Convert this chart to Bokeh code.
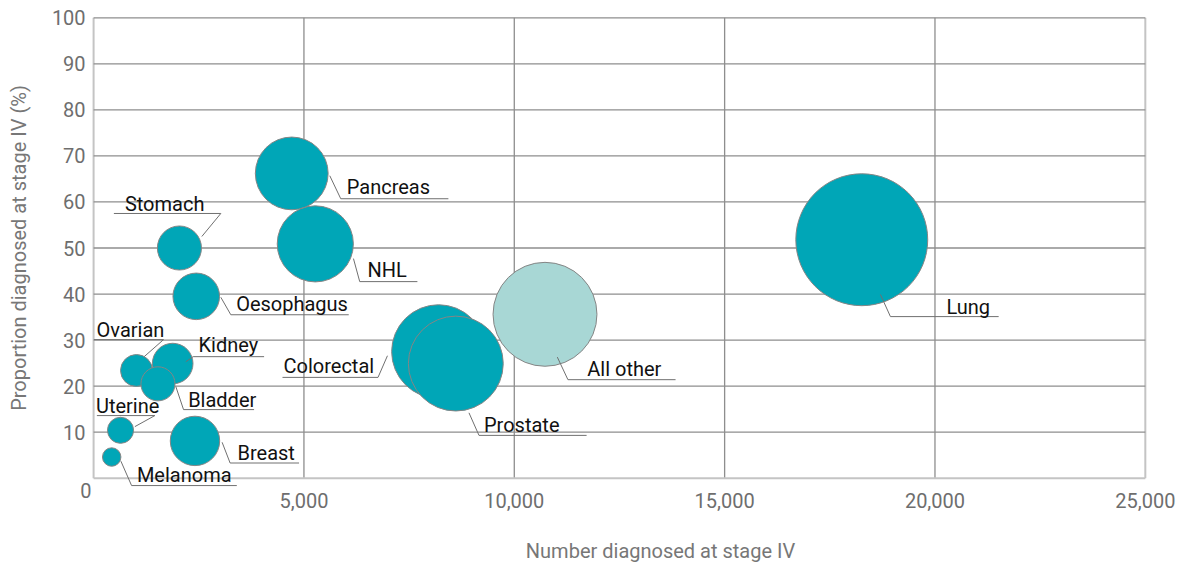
import math
from bokeh.plotting import figure
from bokeh.models import Range1d, ColumnDataSource, FixedTicker, NumeralTickFormatter
from bokeh.core.properties import value
from bokeh.embed import file_html
from bokeh.resources import INLINE

# ---------------- data ----------------
cancer = ["Lung", "All other", "Colorectal", "Prostate", "Pancreas", "NHL", "Stomach",
          "Oesophagus", "Ovarian", "Kidney", "Bladder", "Uterine", "Breast", "Melanoma"]
stage4_number = [18260, 10730, 8200, 8610, 4710, 5270, 2040, 2440, 1020, 1880, 1530, 640, 2410, 430]
stage4_pct = [51.8, 35.6, 27.5, 24.9, 66.2, 50.9, 50.0, 39.5, 23.4, 24.9, 20.5, 10.4, 8.1, 4.6]
bubble_value = [17400, 10800, 8800, 9000, 5300, 5800, 1940, 2170, 1020, 1650, 1160, 680, 2440, 340]

x_ticks = [0, 5000, 10000, 15000, 20000, 25000]
y_ticks = [0, 10, 20, 30, 40, 50, 60, 70, 80, 90, 100]
x_title = "Number diagnosed at stage IV"
y_title = "Proportion diagnosed at stage IV (%)"

# label layout (data coordinates): leader polyline and text baseline anchor
label_layout = {
    "Stomach":    ([(2573, 52.5), (3024, 57.5), (482, 57.5)], (744, 58.1)),
    "Pancreas":   ([(5614, 65.7), (5875, 60.7), (8434, 60.7)], (6018, 61.7)),
    "NHL":        ([(6177, 47.7), (6326, 42.7), (7697, 42.7)], (6509, 43.7)),
    "Oesophagus": ([(3024, 39.3), (3262, 35.5), (6065, 35.5)], (3388, 36.4)),
    "Ovarian":    ([(1202, 26.4), (1663, 30.1), (7, 30.1)], (71, 30.8)),
    "Kidney":     ([(2193, 25.3), (2366, 26.4), (4053, 26.4)], (2494, 27.4)),
    "Bladder":    ([(1955, 19.9), (2138, 14.9), (3815, 14.9)], (2247, 15.4)),
    "Uterine":    ([(981, 11.2), (1456, 13.6), (78, 13.6)], (55, 14.1)),
    "Breast":     ([(3055, 7.8), (3245, 3.3), (4884, 3.3)], (3421, 4.0)),
    "Melanoma":   ([(649, 3.7), (903, -1.6), (3404, -1.6)], (1029, -0.7)),
    "Colorectal": ([(6985, 26.6), (6761, 21.9), (4490, 21.9)], (4514, 22.8)),
    "Prostate":   ([(8923, 14.2), (9161, 9.3), (11719, 9.3)], (9280, 10.0)),
    "All other":  ([(11023, 26.3), (11275, 21.4), (13834, 21.4)], (11736, 22.3)),
    "Lung":       ([(18704, 39.9), (18941, 35.1), (21514, 35.1)], (20272, 35.8)),
}
MID_SHIFT = 1.48  # baseline -> text-box middle, in y data units (about 6.8 px)

FONT = "Roboto"
TEAL = "#00A6B7"
LIGHT = "#A8D7D5"
TICKCOL = "#6e6e6e"
AXCOL = "#777777"

p = figure(width=1177, height=562, output_backend="svg", toolbar_location=None,
           x_range=Range1d(-2213, 25765), y_range=Range1d(-18.31, 103.76),
           min_border_left=0, min_border_right=0, min_border_top=0, min_border_bottom=0)
p.outline_line_color = None
p.xgrid.grid_line_color = None
p.ygrid.grid_line_color = None
p.background_fill_color = "white"
p.border_fill_color = "white"

# grid lines
GRID = "#8e8e8e"
BORDER = "#c4c4c4"
for xv in x_ticks:
    edge = xv in (x_ticks[0], x_ticks[-1])
    p.line([xv, xv], [y_ticks[0], y_ticks[-1]], line_color=BORDER if edge else GRID,
           line_width=2 if edge else 1.3)
for yv in y_ticks:
    edge = yv == y_ticks[0]
    p.line([x_ticks[0], x_ticks[-1]], [yv, yv], line_color=BORDER if edge else GRID,
           line_width=2 if edge else 1.3)

# bubbles
src = ColumnDataSource(dict(
    x=stage4_number, y=stage4_pct, name=cancer,
    size=[math.sqrt(v) for v in bubble_value],
    color=[LIGHT if c == "All other" else TEAL for c in cancer],
))
p.scatter("x", "y", source=src, size="size", marker="circle", fill_color="color",
          line_color="#858585", line_width=1)

# leader lines and labels
xs, ys, tx, ty, tt = [], [], [], [], []
for c in cancer:
    pts, (ax, ay) = label_layout[c]
    xs.append([q[0] for q in pts])
    ys.append([q[1] for q in pts])
    tx.append(ax); ty.append(ay + MID_SHIFT); tt.append(c)
p.multi_line(xs, ys, line_color="#707070", line_width=1)
p.text(tx, ty, text=tt, text_font=value(FONT), text_font_size="20px",
       text_color="#111111", text_baseline="middle", text_align="left")

# axes drawn at fixed data locations
p.xaxis.fixed_location = 0
p.yaxis.fixed_location = 0
p.xaxis.ticker = FixedTicker(ticks=x_ticks[1:])
p.xaxis.formatter = NumeralTickFormatter(format="0,0")
p.yaxis.ticker = FixedTicker(ticks=y_ticks[1:])
for ax in (p.xaxis[0], p.yaxis[0]):
    ax.axis_line_color = None
    ax.major_tick_line_color = None
    ax.minor_tick_line_color = None
    ax.major_tick_out = 0
    ax.major_tick_in = 0
    ax.major_label_text_font = FONT
    ax.major_label_text_font_size = "20px"
    ax.major_label_text_color = TICKCOL
p.xaxis.major_label_standoff = 15
p.yaxis.major_label_standoff = 8

# origin label and axis titles
p.text([-183], [-2.67], text=["0"], text_font=value(FONT), text_font_size="20px",
       text_color=TICKCOL, text_align="center", text_baseline="middle")
p.text([13476], [-15.9], text=[x_title], text_font=value(FONT), text_font_size="20px",
       text_color=AXCOL, text_align="center", text_baseline="middle")
p.text([-1773], [50], text=[y_title], angle=math.pi / 2, text_font=value(FONT),
       text_font_size="20px", text_color=AXCOL, text_align="center", text_baseline="middle")

open("out.html", "w").write(file_html(p, INLINE))
